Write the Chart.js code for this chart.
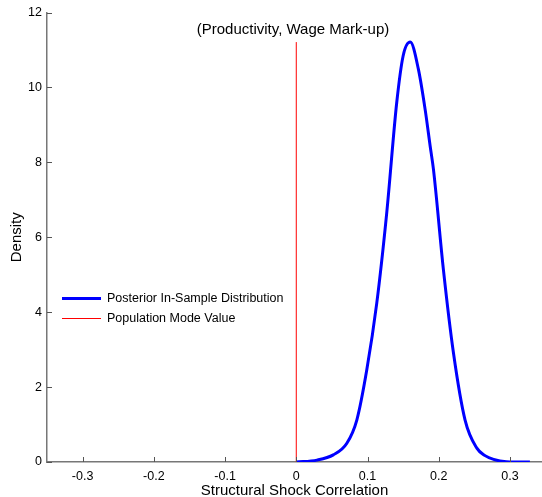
<!DOCTYPE html>
<html>
<head>
<meta charset="utf-8">
<script src="https://cdn.jsdelivr.net/npm/chart.js@4/dist/chart.umd.min.js"></script>
<style>
  body { margin: 0; background: #fff; }
  #wrap { position: relative; width: 542px; height: 497px; }
  #legend { position: absolute; left: 62px; top: 288px; font-family: "Liberation Sans", Arial, sans-serif; font-size: 12.5px; color: #000; }
  #legend div.row { height: 20px; line-height: 20px; white-space: nowrap; display: flex; align-items: center; }
  #legend i { display: block; width: 39px; margin-right: 6px; }
</style>
</head>
<body>
<div id="wrap">
  <canvas id="myChart" width="542" height="497"></canvas>
  <div id="legend">
    <div class="row"><i style="height: 3px; background: #0000ff"></i>Posterior In-Sample Distribution</div>
    <div class="row"><i style="height: 1px; background: #ff0000"></i>Population Mode Value</div>
  </div>
</div>
<script>
// density
let corr = [0, 0.029, 0.052, 0.071, 0.085, 0.099, 0.113, 0.127, 0.141, 0.150, 0.160, 0.1715, 0.181, 0.188, 0.1926, 0.2066, 0.2207, 0.237, 0.2535, 0.265, 0.277, 0.295, 0.328]
let density = [0, 0.05, 0.19, 0.50, 1.12, 2.46, 4.24, 6.65, 9.59, 10.84, 11.21, 10.48, 9.4, 8.43, 7.81, 5.13, 2.91, 1.12, 0.37, 0.17, 0.07, 0.01, 0]

let modeValue = 0
let modeTop = 11.21

let xTicks = [-0.3, -0.2, -0.1, 0, 0.1, 0.2, 0.3]
let yTicks = [0, 2, 4, 6, 8, 10, 12]

const font = "'Liberation Sans', Arial, sans-serif"
const ctx = document.getElementById('myChart')

let posterior = corr.map((x, i) => ({ x: x, y: density[i] }))
let modeLine = [{ x: modeValue, y: 0 }, { x: modeValue, y: modeTop }]

// title inside the axes + inward tick marks
const extras = {
    id: 'extras',
    afterDraw(chart) {
        let c = chart.ctx
        let xs = chart.scales.x
        let ys = chart.scales.y
        c.save()
        c.strokeStyle = '#555'
        c.lineWidth = 1
        xTicks.forEach(v => {
            let px = Math.round(xs.getPixelForValue(v)) + 0.5
            c.beginPath()
            c.moveTo(px, ys.bottom)
            c.lineTo(px, ys.bottom - 5)
            c.stroke()
        })
        yTicks.forEach(v => {
            let py = Math.round(ys.getPixelForValue(v)) + 0.5
            c.beginPath()
            c.moveTo(xs.left, py)
            c.lineTo(xs.left + 5, py)
            c.stroke()
        })
        c.fillStyle = '#000'
        c.font = '15px ' + font
        c.textAlign = 'center'
        c.textBaseline = 'middle'
        c.fillText('(Productivity, Wage Mark-up)', 293, 30)
        c.restore()
    }
}

new Chart(ctx, {
    type: 'line',
    data: {
        datasets: [{
            label: 'Posterior In-Sample Distribution',
            data: posterior,
            borderColor: '#0000ff',
            borderWidth: 3,
            pointRadius: 0,
            tension: 0.4,
            cubicInterpolationMode: 'monotone'
        }, {
            label: 'Population Mode Value',
            data: modeLine,
            borderColor: '#ff0000',
            borderWidth: 1,
            pointRadius: 0
        }]
    },
    options: {
        responsive: false,
        animation: false,
        layout: { padding: { top: 12, right: 0, left: 0, bottom: 0 } },
        plugins: {
            legend: { display: false },
            tooltip: { enabled: false }
        },
        scales: {
            x: {
                type: 'linear',
                min: -0.35,
                max: 0.345,
                afterBuildTicks: s => { s.ticks = xTicks.map(v => ({ value: v })) },
                afterFit: s => { s.height = 35 },
                grid: { display: true, drawOnChartArea: false, drawTicks: false, color: '#555' },
                border: { color: '#777', width: 1.5 },
                ticks: { color: '#000', font: { family: font, size: 12.5 }, padding: 7, maxRotation: 0,
                    callback: v => String(v) },
                title: { display: true, text: 'Structural Shock Correlation', color: '#000',
                    font: { family: font, size: 15 }, padding: { top: 0, bottom: -3 } }
            },
            y: {
                min: 0,
                max: 12,
                afterBuildTicks: s => { s.ticks = yTicks.map(v => ({ value: v })) },
                afterFit: s => { s.width = 47 },
                grid: { display: true, drawOnChartArea: false, drawTicks: false, color: '#555' },
                border: { color: '#777', width: 1.5 },
                ticks: { color: '#000', font: { family: font, size: 12.5 }, padding: 5 },
                title: { display: true, text: 'Density', color: '#000',
                    font: { family: font, size: 15 }, padding: { top: 8, bottom: 0 } }
            }
        }
    },
    plugins: [extras]
})
</script>
</body>
</html>
